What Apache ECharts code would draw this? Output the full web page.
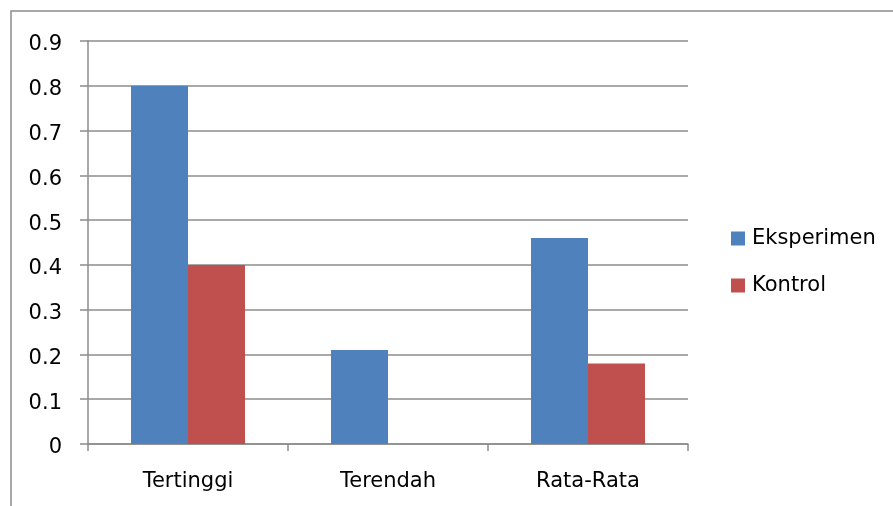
<!DOCTYPE html>
<html>
<head>
<meta charset="utf-8">
<script src="https://cdn.jsdelivr.net/npm/echarts@6/dist/echarts.min.js"></script>
<style>
  html, body { margin: 0; padding: 0; background: #fff; }
  #chart { width: 893px; height: 506px; }
</style>
</head>
<body>
<div id="chart"></div>
<script>
const categories = ['Tertinggi', 'Terendah', 'Rata-Rata']
const eksperimen = [0.8, 0.21, 0.46]
const kontrol = [0.4, 0, 0.18]
const yTicks = [0, 0.1, 0.2, 0.3, 0.4, 0.5, 0.6, 0.7, 0.8, 0.9]

const font = '"DejaVu Sans", sans-serif'
const grey = '#8c8c8c'

const chart = echarts.init(document.getElementById('chart'))
chart.setOption({
  backgroundColor: '#fff',
  animation: false,
  graphic: [
    {
      type: 'rect',
      shape: { x: 11, y: 11, width: 960, height: 560 },
      style: { fill: 'none', stroke: grey, lineWidth: 1.5 },
      z: 0,
    },
  ],
  grid: { left: 88, right: 205, top: 41, bottom: 62 },
  legend: {
    orient: 'vertical',
    left: 731,
    top: 228,
    padding: 0,
    itemWidth: 14,
    itemHeight: 14,
    itemGap: 26,
    icon: 'rect',
    textStyle: { fontFamily: font, fontSize: 21, color: '#000', padding: [3, 0, 0, 2] },
    data: ['Eksperimen', 'Kontrol'],
  },
  xAxis: {
    type: 'category',
    data: categories,
    axisLine: { lineStyle: { color: grey, width: 1.5 } },
    axisTick: { show: true, length: 7, lineStyle: { color: grey, width: 1.5 } },
    axisLabel: { fontFamily: font, fontSize: 21, color: '#000', margin: 27 },
  },
  yAxis: {
    type: 'value',
    min: yTicks[0],
    max: yTicks[yTicks.length - 1],
    interval: 0.1,
    axisLine: { show: true, lineStyle: { color: grey, width: 1.5 } },
    axisTick: { show: true, length: 8, lineStyle: { color: grey, width: 1.5 } },
    splitLine: { lineStyle: { color: grey, width: 1.5 } },
    axisLabel: {
      color: '#000',
      margin: 26,
      formatter: (v) => '{n|' + (Math.round(v * 10) / 10).toString() + '}',
      rich: {
        n: { fontFamily: font, fontSize: 21, color: '#000', padding: [8, 0, 0, 0] },
      },
    },
  },
  series: [
    {
      name: 'Eksperimen',
      type: 'bar',
      data: eksperimen,
      barGap: '0%',
      barCategoryGap: '43%',
      itemStyle: { color: '#4f81bd' },
    },
    {
      name: 'Kontrol',
      type: 'bar',
      data: kontrol,
      itemStyle: { color: '#c0504d' },
    },
  ],
})
</script>
</body>
</html>
